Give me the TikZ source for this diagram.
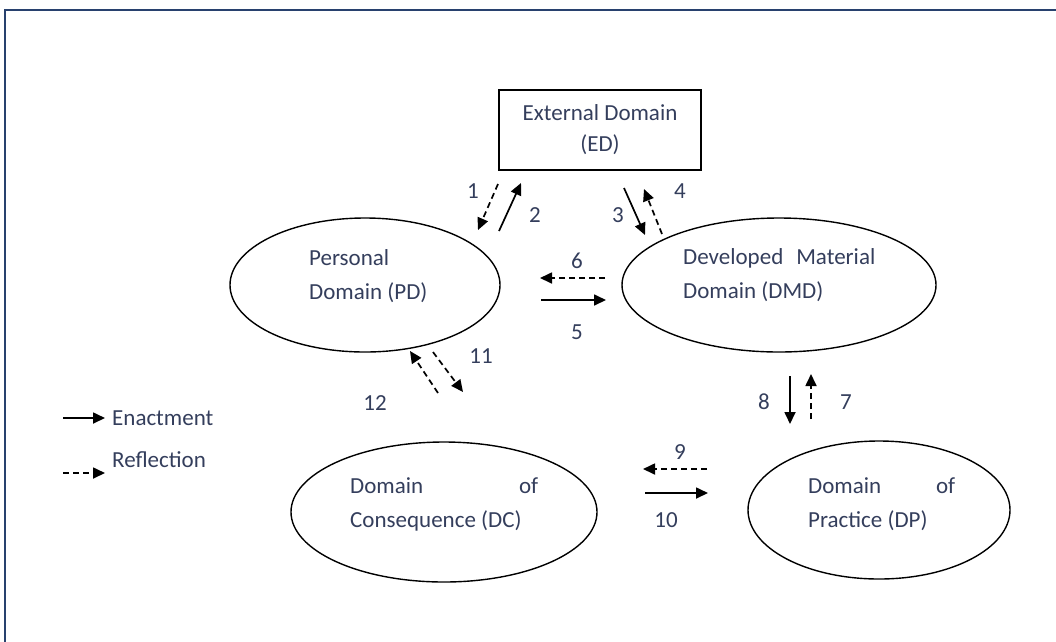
\documentclass[tikz,border=0pt]{standalone}
\usepackage{fontspec}
\setmainfont{Carlito}
\usetikzlibrary{shapes.geometric,arrows.meta}
\definecolor{frameblue}{RGB}{40,65,110}
\definecolor{txt}{RGB}{52,62,92}
\tikzset{
  dom/.style={draw=black,line width=1.4pt,ellipse,inner sep=0pt},
  domtext/.style={text=txt,align=left,inner sep=0pt,font=\fontsize{23}{34}\selectfont},
  lbl/.style={text=txt,font=\fontsize{23}{26}\selectfont,inner sep=0pt},
  enact/.style={line width=1.7pt,-{Triangle[length=12pt,width=11pt]}},
  refl/.style={line width=1.7pt,dash pattern=on 6pt off 4pt,-{Triangle[length=12pt,width=11pt]}}
}
\begin{document}
\begin{tikzpicture}[x=1pt,y=-1pt]
\useasboundingbox (0,0) rectangle (1056,641);
\draw[frameblue,line width=2pt] (5,645) -- (5,10) -- (1060,10);
% nodes
\node[draw=black,line width=1.6pt,minimum width=202pt,minimum height=80pt,inner sep=0pt,text=txt,align=center,font=\fontsize{23}{31}\selectfont] (ed) at (600,130) {External Domain\\(ED)};
\node[dom,minimum width=270pt,minimum height=134pt] (pd) at (365,285) {};
\node[dom,minimum width=314pt,minimum height=134pt] (dmd) at (779,285) {};
\node[dom,minimum width=306pt,minimum height=140pt] (dc) at (444,512) {};
\node[dom,minimum width=262pt,minimum height=138pt] (dp) at (879,510) {};
\node[domtext,anchor=west] (pdt) at (309,276) {Personal\\Domain (PD)};
\node[domtext,anchor=west] (dmdt) at (683,275) {Developed\hspace{13pt}Material\\Domain (DMD)};
\node[domtext,anchor=west] (dct) at (350,504) {\makebox[188pt][s]{Domain\hfill of}\\Consequence (DC)};
\node[domtext,anchor=west] (dpt) at (808,504) {\makebox[147pt][s]{Domain\hfill of}\\Practice (DP)};
% arrow end points
\coordinate (a1s) at (498,184); \coordinate (a1e) at (478,230);
\coordinate (a2s) at (499,231); \coordinate (a2e) at (521,183);
\coordinate (a3s) at (624,188); \coordinate (a3e) at (645,235);
\coordinate (a4s) at (662,234); \coordinate (a4e) at (644,189);
\coordinate (a6s) at (605,278); \coordinate (a6e) at (540,278);
\coordinate (a5s) at (541,300); \coordinate (a5e) at (606,300);
\coordinate (a11s) at (433,352); \coordinate (a11e) at (463,392);
\coordinate (a12s) at (438,393); \coordinate (a12e) at (410,351);
\coordinate (a8s) at (790,376); \coordinate (a8e) at (790,424);
\coordinate (a7s) at (811,419); \coordinate (a7e) at (811,374);
\coordinate (a9s) at (707,469); \coordinate (a9e) at (643,469);
\coordinate (a10s) at (645,493); \coordinate (a10e) at (708,493);
\draw[refl] (a1s) -- (a1e);
\draw[enact] (a2s) -- (a2e);
\draw[enact] (a3s) -- (a3e);
\draw[refl] (a4s) -- (a4e);
\draw[refl] (a6s) -- (a6e);
\draw[enact] (a5s) -- (a5e);
\draw[refl] (a11s) -- (a11e);
\draw[refl] (a12s) -- (a12e);
\draw[enact] (a8s) -- (a8e);
\draw[refl] (a7s) -- (a7e);
\draw[refl] (a9s) -- (a9e);
\draw[enact] (a10s) -- (a10e);
% labels
\node[lbl] (n1) at (473,191) {1};
\node[lbl] (n2) at (535,215) {2};
\node[lbl] (n3) at (618,215) {3};
\node[lbl] (n4) at (680,191) {4};
\node[lbl] (n6) at (577,261) {6};
\node[lbl] (n5) at (577,332) {5};
\node[lbl] (n11) at (481,356) {11};
\node[lbl] (n12) at (375,403) {12};
\node[lbl] (n8) at (764,402) {8};
\node[lbl] (n7) at (846,402) {7};
\node[lbl] (n9) at (680,452) {9};
\node[lbl] (n10) at (666,520) {10};
% legend
\coordinate (le1s) at (63,418); \coordinate (le1e) at (105,418);
\coordinate (le2s) at (63,473); \coordinate (le2e) at (105,473);
\draw[enact] (le1s) -- (le1e);
\draw[refl] (le2s) -- (le2e);
\node[lbl,anchor=west] (len) at (112,418) {Enactment};
\node[lbl,anchor=west] (lre) at (112,460) {Reflection};
\end{tikzpicture}
\end{document}
